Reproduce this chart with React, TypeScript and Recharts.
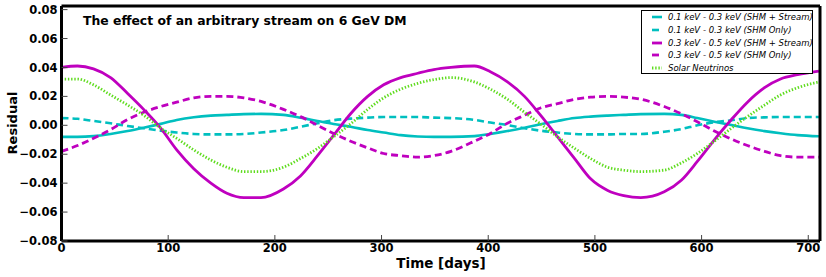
import { LineChart, Line, XAxis, YAxis, Label } from 'recharts';

const FONT = '"DejaVu Sans", Verdana, sans-serif';

const days = [0, 15, 30, 46, 62, 77, 93, 108, 124, 140, 155, 171, 187, 208, 224, 240, 255, 271, 287, 302, 318, 334, 349, 365, 387, 402, 418, 434, 449, 465, 481, 496, 512, 527, 543, 565, 581, 596, 612, 628, 643, 659, 674, 690, 710];

const lowStream = [-0.008, -0.008, -0.0075, -0.006, -0.004, -0.0017, 0.001, 0.0037, 0.0056, 0.0067, 0.0072, 0.0077, 0.0079, 0.0072, 0.0053, 0.003, 0.0009, -0.001, -0.0033, -0.005, -0.0068, -0.0077, -0.008, -0.008, -0.0075, -0.006, -0.004, -0.0017, 0.0007, 0.003, 0.005, 0.006, 0.0067, 0.0072, 0.0077, 0.0079, 0.0072, 0.005, 0.0025, 0.0002, -0.002, -0.004, -0.0055, -0.0068, -0.0076];

const lowShm = [0.005, 0.0045, 0.003, 0.0014, -0.0005, -0.002, -0.0037, -0.005, -0.006, -0.0063, -0.0063, -0.006, -0.005, -0.0033, -0.001, 0.0014, 0.0035, 0.0046, 0.0053, 0.0057, 0.0057, 0.0057, 0.0053, 0.005, 0.0037, 0.0019, 0.0002, -0.002, -0.0037, -0.005, -0.006, -0.0063, -0.0063, -0.006, -0.006, -0.0044, -0.0026, 0.0, 0.0021, 0.0035, 0.005, 0.0055, 0.0057, 0.0057, 0.0057];

const highStream = [0.04, 0.041, 0.039, 0.033, 0.022, 0.011, -0.002, -0.017, -0.03, -0.04, -0.047, -0.05, -0.05, -0.044, -0.035, -0.021, -0.007, 0.008, 0.02, 0.028, 0.033, 0.036, 0.0385, 0.04, 0.041, 0.037, 0.03, 0.02, 0.007, -0.008, -0.023, -0.037, -0.045, -0.0486, -0.05, -0.046, -0.038, -0.025, -0.01, 0.004, 0.016, 0.026, 0.032, 0.035, 0.0375];

const highShm = [-0.018, -0.014, -0.009, -0.003, 0.004, 0.009, 0.013, 0.016, 0.019, 0.02, 0.02, 0.019, 0.0165, 0.011, 0.006, 0.0, -0.0056, -0.011, -0.0156, -0.0195, -0.021, -0.022, -0.021, -0.018, -0.011, -0.0056, 0.0014, 0.007, 0.012, 0.015, 0.018, 0.0195, 0.02, 0.0195, 0.018, 0.013, 0.008, 0.0025, -0.004, -0.0095, -0.014, -0.018, -0.021, -0.022, -0.022];

const solar = [0.032, 0.032, 0.028, 0.021, 0.014, 0.007, -0.002, -0.009, -0.017, -0.024, -0.029, -0.032, -0.032, -0.029, -0.023, -0.016, -0.008, 0.001, 0.011, 0.019, 0.025, 0.029, 0.0316, 0.033, 0.03, 0.025, 0.018, 0.009, 0.001, -0.008, -0.016, -0.023, -0.029, -0.031, -0.032, -0.031, -0.026, -0.0195, -0.011, -0.002, 0.006, 0.014, 0.021, 0.026, 0.03];

const xTicks = [0, 100, 200, 300, 400, 500, 600, 700];
const yTicks = [-0.08, -0.06, -0.04, -0.02, 0, 0.02, 0.04, 0.06, 0.08];

const series = [
  { key: 'lowStream', name: '0.1 keV - 0.3 keV (SHM + Stream)', color: '#00BFBF', dash: undefined, width: 2.6 },
  { key: 'lowShm', name: '0.1 keV - 0.3 keV (SHM Only)', color: '#00BFBF', dash: '7 4', width: 2.6 },
  { key: 'highStream', name: '0.3 keV - 0.5 keV (SHM + Stream)', color: '#BF00BF', dash: undefined, width: 2.8 },
  { key: 'highShm', name: '0.3 keV - 0.5 keV (SHM Only)', color: '#BF00BF', dash: '7 4', width: 2.8 },
  { key: 'solar', name: 'Solar Neutrinos', color: '#5FDC1E', dash: '1.4 1.8', width: 2.8 },
];

const data = days.map((day, i) => ({
  day,
  lowStream: lowStream[i],
  lowShm: lowShm[i],
  highStream: highStream[i],
  highShm: highShm[i],
  solar: solar[i],
}));

const fmtY = (v: number) => (v < -1e-9 ? '\u2212' + Math.abs(v).toFixed(2) : Math.abs(v).toFixed(2));

const tickStyle = { fill: '#000', fontSize: 11.5, fontWeight: 'bold', fontFamily: FONT };
const tickLine = { stroke: '#444', strokeWidth: 1 };
const frame = { stroke: '#000', strokeWidth: 3 };

function ChartLegend() {
  return (
    <div
      style={{
        position: 'absolute',
        left: 641,
        top: 10,
        width: 172,
        height: 64,
        border: '1px solid #000',
        background: '#fff',
        boxSizing: 'border-box',
        fontFamily: FONT,
        fontStyle: 'italic',
        fontSize: 8.5,
        color: '#000',
      }}
    >
      {series.map((s, i) => (
        <div key={s.key} style={{ position: 'absolute', left: 0, top: i * 12.75, height: 12, display: 'flex', alignItems: 'center', whiteSpace: 'nowrap' }}>
          <svg width={26} height={12} style={{ flex: 'none' }}>
            <line x1={10} x2={20} y1={6} y2={6} stroke={s.color} strokeWidth={s.width} strokeDasharray={s.dash} />
          </svg>
          <span>{s.name}</span>
        </div>
      ))}
    </div>
  );
}

export default function App() {
  return (
    <div style={{ position: 'absolute', left: 0, top: 0, width: 826, height: 277, background: '#fff', overflow: 'hidden' }}>
      <LineChart width={826} height={277} data={data} margin={{ top: 5, right: 5, left: 0, bottom: 0 }}>
        <XAxis
          dataKey="day"
          type="number"
          domain={[0, 711]}
          ticks={xTicks}
          interval={0}
          allowDataOverflow
          height={36}
          axisLine={frame}
          tickLine={tickLine}
          tickSize={-6}
          tickMargin={9}
          tick={tickStyle}
        >
          <Label
            content={() => (
              <text x={441} y={268} textAnchor="middle" fontFamily={FONT} fontSize={13.5} fontWeight="bold" fill="#000">
                Time [days]
              </text>
            )}
          />
        </XAxis>
        <XAxis
          xAxisId="top"
          dataKey="day"
          orientation="top"
          type="number"
          domain={[0, 711]}
          ticks={xTicks}
          interval={0}
          allowDataOverflow
          height={1}
          axisLine={frame}
          tickLine={tickLine}
          tickSize={-6}
          tick={false}
        >
          <Label
            content={() => (
              <text x={83} y={25} fontFamily={FONT} fontSize={12.4} fontWeight="bold" fill="#000">
                The effect of an arbitrary stream on 6 GeV DM
              </text>
            )}
          />
        </XAxis>
        <YAxis
          type="number"
          domain={[-0.08, 0.0825]}
          ticks={yTicks}
          interval={0}
          allowDataOverflow
          width={61.5}
          axisLine={frame}
          tickLine={tickLine}
          tickSize={-6}
          tickMargin={10}
          tick={tickStyle}
          tickFormatter={fmtY}
        >
          <Label
            content={() => (
              <text
                x={12}
                y={123}
                transform="rotate(-90 12 123)"
                textAnchor="middle"
                dominantBaseline="central"
                fontFamily={FONT}
                fontSize={13}
                fontWeight="bold"
                fill="#000"
              >
                Residual
              </text>
            )}
          />
        </YAxis>
        <YAxis
          yAxisId="right"
          orientation="right"
          type="number"
          domain={[-0.08, 0.0825]}
          ticks={yTicks}
          interval={0}
          allowDataOverflow
          width={1}
          axisLine={frame}
          tickLine={tickLine}
          tickSize={-6}
          tick={false}
        />
        {series.map((s) => (
          <Line
            key={s.key}
            type="monotone"
            dataKey={s.key}
            name={s.name}
            stroke={s.color}
            strokeWidth={s.width}
            strokeDasharray={s.dash}
            dot={false}
            activeDot={false}
            isAnimationActive={false}
          />
        ))}
      </LineChart>
      <ChartLegend />
    </div>
  );
}
